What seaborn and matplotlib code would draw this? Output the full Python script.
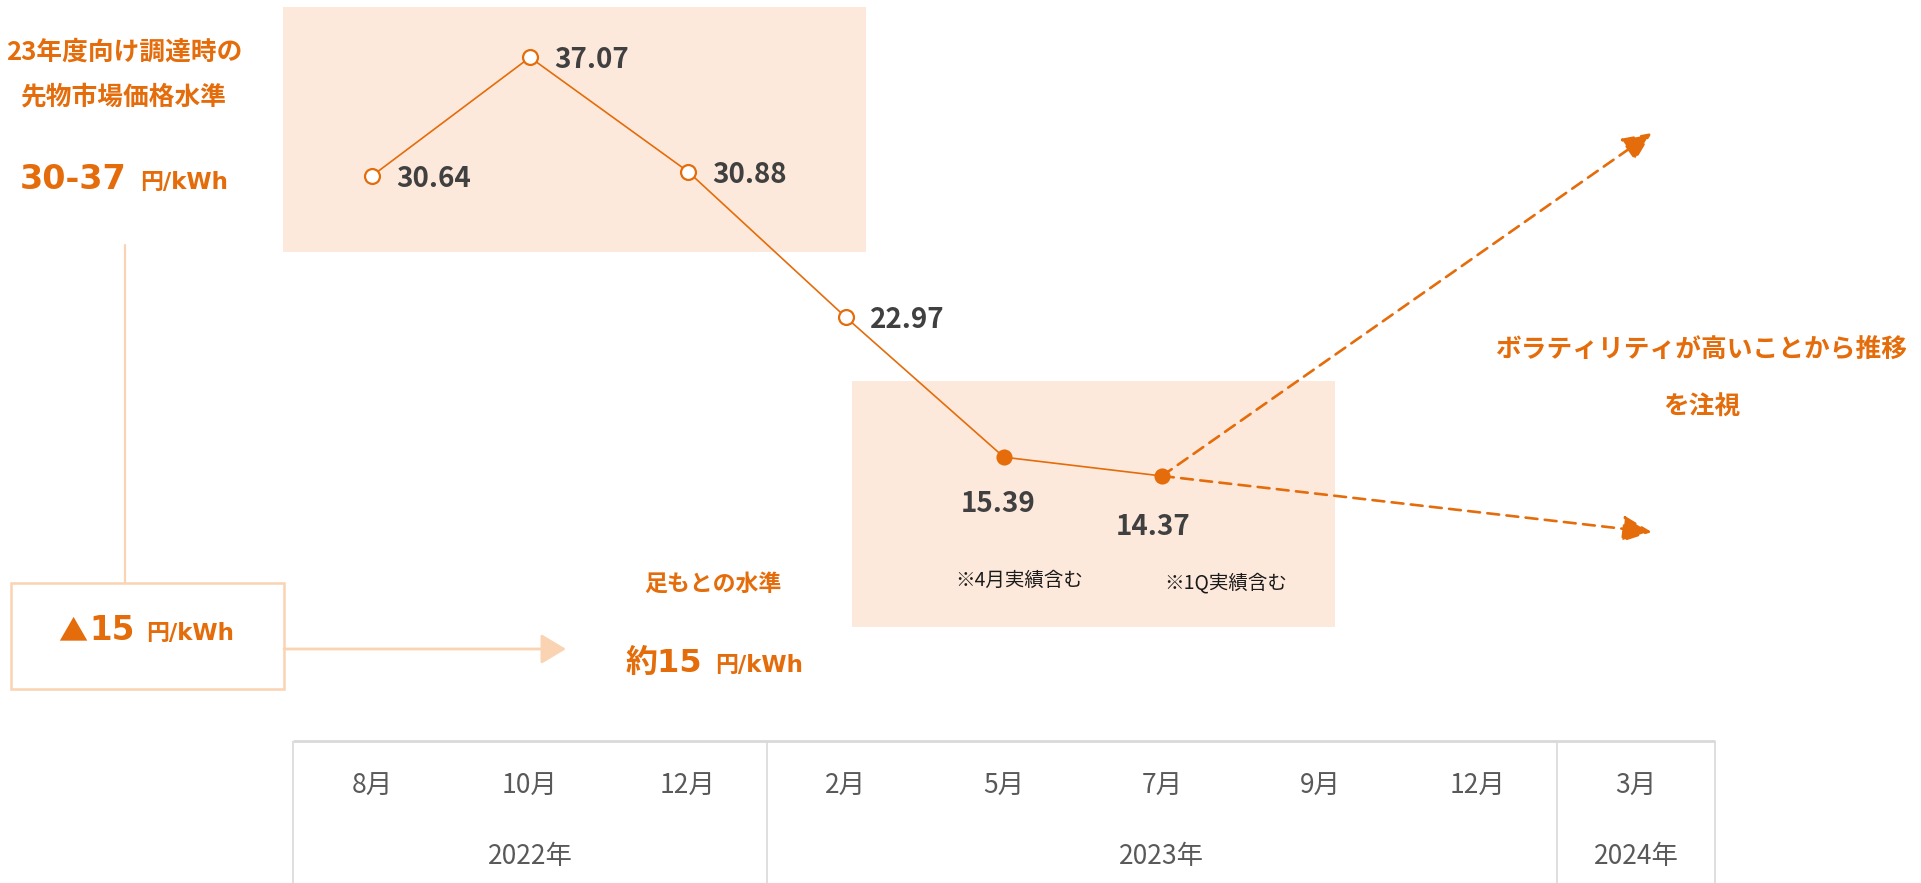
import matplotlib
matplotlib.use("Agg")
import matplotlib.pyplot as plt
import matplotlib.transforms as mtransforms
from matplotlib.patches import Rectangle
import seaborn as sns

# data
months = ["8月", "10月", "12月", "2月", "5月", "7月", "9月", "12月", "3月"]
years = ["2022年", "2023年", "2024年"]
year_centers = [1, 5, 8]
year_edges = [-0.5, 2.5, 7.5, 8.5]
prices = [30.64, 37.07, 30.88, 22.97, 15.39, 14.37]
price_x = [0, 1, 2, 3, 4, 5]
open_n = 4  # first four points drawn as hollow markers
forecast_x = 8.1
forecast_hi = 32.97
forecast_lo = 11.33

ORANGE = "#E46C0A"
PEACH = "#FAD3B2"
LIGHT = "#FDE9DB"
DARK = "#404040"
GRAY = "#595959"
W, H = 1921, 883
LATIN = ["DejaVu Sans", "Noto Sans CJK JP"]  # wide latin digits, CJK fallback

sns.set_theme(style="white")
plt.rcParams["font.family"] = ["Noto Sans CJK JP", "DejaVu Sans"]

fig = plt.figure(figsize=(W / 100, H / 100), dpi=100)
ax = fig.add_axes([0, 0, 1, 1])
ax.patch.set_alpha(0)
# pixel coordinates with origin at the top left, for the decorations
pix = mtransforms.Affine2D().scale(1 / W, -1 / H).translate(0, 1) + fig.transFigure

# shaded highlight boxes
ax.add_patch(Rectangle((283, 7), 583, 245, transform=pix, fc=LIGHT, ec="none", zorder=0))
ax.add_patch(Rectangle((852, 381), 483, 246, transform=pix, fc=LIGHT, ec="none", zorder=0))

# price line
sns.lineplot(x=price_x, y=prices, ax=ax, color=ORANGE, linewidth=1.2, zorder=2)
sns.scatterplot(x=price_x[:open_n], y=prices[:open_n], ax=ax, s=115, color="white",
                edgecolor=ORANGE, linewidth=1.6, zorder=3)
sns.scatterplot(x=price_x[open_n:], y=prices[open_n:], ax=ax, s=135, color=ORANGE,
                edgecolor=ORANGE, linewidth=0, zorder=3)

# value labels
for i, (x, v) in enumerate(zip(price_x, prices)):
    if i < open_n:
        ax.annotate(f"{v:.2f}", (x, v), xytext=(24, -3), textcoords="offset pixels",
                    ha="left", va="center", fontsize=20, fontweight="bold", color=DARK)
    else:
        off = (-6, -47) if i == open_n else (-9, -51)
        ax.annotate(f"{v:.2f}", (x, v), xytext=off, textcoords="offset pixels",
                    ha="center", va="center", fontsize=20, fontweight="bold", color=DARK)

ax.text(1019, 580, "※4月実績含む", transform=pix, ha="center", va="center", fontsize=14, color="#1a1a1a")
ax.text(1226, 583, "※1Q実績含む", transform=pix, ha="center", va="center", fontsize=14, color="#1a1a1a")

# dashed forecast arrows
x0, y0 = price_x[-1], prices[-1]
for fy in [forecast_hi, forecast_lo]:
    ax.annotate("", xy=(forecast_x, fy), xytext=(x0, y0),
                arrowprops=dict(arrowstyle="-|>,head_length=0.75,head_width=0.34",
                                mutation_scale=24, color=ORANGE, lw=1.9,
                                linestyle=(0, (4.5, 2.8)), shrinkA=0, shrinkB=0),
                zorder=2)

ax.text(1702, 350, "ボラティリティが高いことから推移", transform=pix, ha="center", va="center",
        fontsize=18.5, fontweight="bold", color=ORANGE)
ax.text(1702, 407, "を注視", transform=pix, ha="center", va="center",
        fontsize=18.5, fontweight="bold", color=ORANGE)

# left side annotations
ax.text(124, 52, "23年度向け調達時の", transform=pix, ha="center", va="center",
        fontsize=18.5, fontweight="bold", color=ORANGE)
ax.text(124, 97, "先物市場価格水準", transform=pix, ha="center", va="center",
        fontsize=18.5, fontweight="bold", color=ORANGE)
ax.text(127, 189, "30-37", transform=pix, ha="right", va="baseline",
        fontsize=24, fontweight="bold", color=ORANGE, family=LATIN)
ax.text(140, 189, "円/kWh", transform=pix, ha="left", va="baseline",
        fontsize=16.5, fontweight="bold", color=ORANGE, family=LATIN)

ax.plot([125, 125], [245, 583], transform=pix, color=PEACH, lw=1.6, zorder=1)
ax.add_patch(Rectangle((11, 583), 273, 106, transform=pix, fc="white", ec=PEACH, lw=1.8, zorder=1))
ax.text(87, 640, "▲", transform=pix, ha="right", va="baseline",
        fontsize=21, fontweight="bold", color=ORANGE)
ax.text(89, 640, "15", transform=pix, ha="left", va="baseline",
        fontsize=23.5, fontweight="bold", color=ORANGE, family=LATIN)
ax.text(146, 640, "円/kWh", transform=pix, ha="left", va="baseline",
        fontsize=16.5, fontweight="bold", color=ORANGE, family=LATIN)
ax.annotate("", xy=(566, 649), xytext=(284, 649), xycoords=pix, textcoords=pix,
            arrowprops=dict(arrowstyle="-|>,head_length=0.7,head_width=0.42", mutation_scale=22,
                            color=PEACH, lw=2, shrinkA=0, shrinkB=0))

ax.text(713, 584, "足もとの水準", transform=pix, ha="center", va="center",
        fontsize=16.5, fontweight="bold", color=ORANGE)
ax.text(702, 672, "約15", transform=pix, ha="right", va="baseline",
        fontsize=23, fontweight="bold", color=ORANGE, family=LATIN)
ax.text(715, 672, "円/kWh", transform=pix, ha="left", va="baseline",
        fontsize=16.5, fontweight="bold", color=ORANGE, family=LATIN)

# month / year table below the chart
y_bottom = -7.70
ax.hlines(0, year_edges[0], year_edges[-1], color="#D9D9D9", lw=2, zorder=1)
ax.vlines(year_edges, y_bottom, 0, color="#D9D9D9", lw=1.2, zorder=1)
for i, m in enumerate(months):
    ax.text(i, -2.44, m, ha="center", va="center", fontsize=19, color=GRAY)
for xc, yl in zip(year_centers, years):
    ax.text(xc, -6.24, yl, ha="center", va="center", fontsize=19, color=GRAY)

ax.set_xlim(-2.354, 9.804)
ax.set_ylim(y_bottom, 40.18)
ax.axis("off")

fig.savefig("out.png", dpi=100, facecolor="white")
